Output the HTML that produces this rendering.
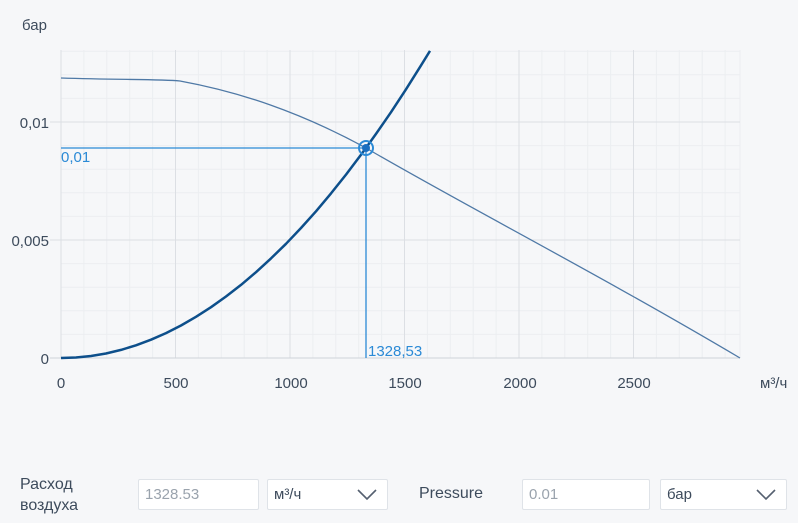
<!DOCTYPE html><html><head><meta charset="utf-8"><style>
body{margin:0;width:798px;height:523px;background:#f6f7f9;font-family:"Liberation Sans",sans-serif;overflow:hidden;position:relative}
.t{position:absolute;color:#3d4b5c;font-size:15px}
.box{position:absolute;top:479px;height:31px;background:#fff;border:1px solid #dfe3e8;border-radius:2px;box-sizing:border-box;font-size:15px;line-height:29px;padding-left:6px}
.box svg{position:absolute;right:10px;top:9px}
</style></head><body>
<svg width="798" height="440" style="position:absolute;left:0;top:0">
<g stroke="#eceef1" stroke-width="1">
<line x1="83.9" y1="50" x2="83.9" y2="358"/><line x1="106.8" y1="50" x2="106.8" y2="358"/><line x1="129.7" y1="50" x2="129.7" y2="358"/><line x1="152.6" y1="50" x2="152.6" y2="358"/>
<line x1="198.4" y1="50" x2="198.4" y2="358"/><line x1="221.3" y1="50" x2="221.3" y2="358"/><line x1="244.2" y1="50" x2="244.2" y2="358"/><line x1="267.1" y1="50" x2="267.1" y2="358"/>
<line x1="312.9" y1="50" x2="312.9" y2="358"/><line x1="335.8" y1="50" x2="335.8" y2="358"/><line x1="358.7" y1="50" x2="358.7" y2="358"/><line x1="381.6" y1="50" x2="381.6" y2="358"/>
<line x1="427.4" y1="50" x2="427.4" y2="358"/><line x1="450.3" y1="50" x2="450.3" y2="358"/><line x1="473.2" y1="50" x2="473.2" y2="358"/><line x1="496.1" y1="50" x2="496.1" y2="358"/>
<line x1="541.9" y1="50" x2="541.9" y2="358"/><line x1="564.8" y1="50" x2="564.8" y2="358"/><line x1="587.7" y1="50" x2="587.7" y2="358"/><line x1="610.6" y1="50" x2="610.6" y2="358"/>
<line x1="656.4" y1="50" x2="656.4" y2="358"/><line x1="679.3" y1="50" x2="679.3" y2="358"/><line x1="702.2" y1="50" x2="702.2" y2="358"/><line x1="725.1" y1="50" x2="725.1" y2="358"/><line x1="740" y1="50" x2="740" y2="358"/>
<line x1="61" y1="334.4" x2="740" y2="334.4"/><line x1="61" y1="310.8" x2="740" y2="310.8"/><line x1="61" y1="287.2" x2="740" y2="287.2"/><line x1="61" y1="263.6" x2="740" y2="263.6"/>
<line x1="61" y1="216.4" x2="740" y2="216.4"/><line x1="61" y1="192.8" x2="740" y2="192.8"/><line x1="61" y1="169.2" x2="740" y2="169.2"/><line x1="61" y1="145.6" x2="740" y2="145.6"/>
<line x1="61" y1="98.4" x2="740" y2="98.4"/><line x1="61" y1="74.8" x2="740" y2="74.8"/><line x1="61" y1="51.2" x2="740" y2="51.2"/>
</g>
<g stroke="#dcdfe4" stroke-width="1">
<line x1="61" y1="50" x2="61" y2="358"/><line x1="175.5" y1="50" x2="175.5" y2="358"/><line x1="290" y1="50" x2="290" y2="358"/><line x1="404.5" y1="50" x2="404.5" y2="358"/><line x1="519" y1="50" x2="519" y2="358"/><line x1="633.5" y1="50" x2="633.5" y2="358"/>
<line x1="50" y1="122" x2="740" y2="122"/><line x1="50" y1="240" x2="740" y2="240"/><line x1="50" y1="358" x2="740" y2="358" stroke="#cfd3d9"/>
</g>
<path d="M61,78 C120,80 160,79 180,81 C240,92 300,112 366,148 C460,203 600,275 740,358" fill="none" stroke="#4f79a6" stroke-width="1.3"/>
<path d="M61,358 L76,357.5 L91,356 L106,353.5 L121,349.9 L136,345.3 L151,339.7 L166,333.1 L181,325.5 L196,316.8 L211,307.2 L226,296.5 L241,284.9 L256,272.2 L271,258.4 L286,243.8 L301,228 L316,211.3 L331,193.4 L346,174.6 L361,154.8 L376,133.9 L391,112.2 L406,89.3 L421,65.4 L430,50.9" fill="none" stroke="#0d4f8b" stroke-width="2.5" stroke-linejoin="round"/>
<line x1="61" y1="148" x2="366" y2="148" stroke="#2b8ad6" stroke-width="1.3"/>
<line x1="366" y1="148" x2="366" y2="358" stroke="#2b8ad6" stroke-width="1.3"/>
<circle cx="366" cy="148" r="7" fill="none" stroke="#2b8ad6" stroke-width="2"/>
<circle cx="366" cy="148" r="4" fill="#1a6fc0"/>
<g font-family="Liberation Sans" font-size="15" fill="#3d4b5c">
<text x="22" y="30">бар</text>
<text x="49" y="128" text-anchor="end">0,01</text>
<text x="49" y="246" text-anchor="end">0,005</text>
<text x="49" y="364" text-anchor="end">0</text>
<text x="61" y="388" text-anchor="middle">0</text>
<text x="176" y="388" text-anchor="middle">500</text>
<text x="291" y="388" text-anchor="middle">1000</text>
<text x="405" y="388" text-anchor="middle">1500</text>
<text x="520" y="388" text-anchor="middle">2000</text>
<text x="634" y="388" text-anchor="middle">2500</text>
<text x="760" y="388">м³/ч</text>
<text x="61" y="162" fill="#2b8ad6">0,01</text>
<text x="368" y="356" fill="#2b8ad6">1328,53</text>
</g>
</svg>
<div class="t" style="left:20px;top:474px;font-size:16px;line-height:21px">Расход<br>воздуха</div>
<div class="box" style="left:138px;width:121px;color:#9aa3ad">1328.53</div>
<div class="box" style="left:267px;width:121px;color:#3d4b5c">м³/ч<svg width="20" height="12"><polyline points="1,1 10,10 19,1" fill="none" stroke="#556070" stroke-width="1.6"/></svg></div>
<div class="t" style="left:419px;top:485px;font-size:16px">Pressure</div>
<div class="box" style="left:522px;width:128px;color:#9aa3ad">0.01</div>
<div class="box" style="left:660px;width:127px;color:#3d4b5c">бар<svg width="20" height="12"><polyline points="1,1 10,10 19,1" fill="none" stroke="#556070" stroke-width="1.6"/></svg></div>
</body></html>
